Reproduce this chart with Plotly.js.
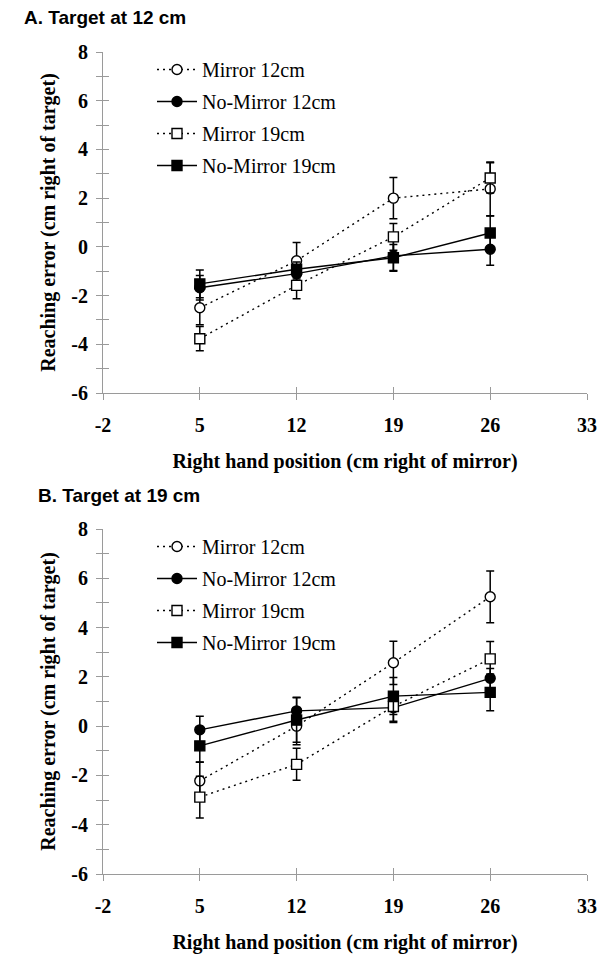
<!DOCTYPE html>
<html>
<head>
<meta charset="utf-8">
<script src="https://cdn.plot.ly/plotly-3.0.1.min.js"></script>
<style>html,body{margin:0;padding:0;background:#fff;}#chart{width:604px;height:954px;}</style>
</head>
<body>
<div id="chart"></div>
<script>
// ---- data ----
const handPos = [5, 12, 19, 26];
const seriesNames = ["Mirror 12cm", "No-Mirror 12cm", "Mirror 19cm", "No-Mirror 19cm"];
const xTickVals = [-2, 5, 12, 19, 26, 33];
const xTickText = ["-2", "5", "12", "19", "26", "33"];
const yTickVals = [-6, -5, -4, -3, -2, -1, 0, 1, 2, 3, 4, 5, 6, 7, 8];
const yTickText = ["-6", "", "-4", "", "-2", "", "0", "", "2", "", "4", "", "6", "", "8"];

// Panel A: target at 12 cm
const aMirror12 = [-2.5, -0.57, 2.0, 2.38];
const aMirror12Err = [0.7, 0.75, 0.85, 1.1];
const aNoMirror12 = [-1.68, -1.1, -0.37, -0.1];
const aNoMirror12Err = [0.5, 0.35, 0.6, 0.65];
const aMirror19 = [-3.77, -1.58, 0.41, 2.83];
const aMirror19Err = [0.5, 0.55, 0.55, 0.62];
const aNoMirror19 = [-1.52, -0.92, -0.45, 0.57];
const aNoMirror19Err = [0.57, 0.3, 0.55, 0.7];

// Panel B: target at 19 cm
const bMirror12 = [-2.22, 0.0, 2.57, 5.25];
const bMirror12Err = [0.75, 0.75, 0.88, 1.05];
const bNoMirror12 = [-0.15, 0.62, 0.75, 1.94];
const bNoMirror12Err = [0.55, 0.55, 0.6, 0.4];
const bMirror19 = [-2.88, -1.55, 0.8, 2.73];
const bMirror19Err = [0.85, 0.65, 0.6, 0.7];
const bNoMirror19 = [-0.8, 0.25, 1.22, 1.37];
const bNoMirror19Err = [0.65, 0.9, 0.75, 0.75];

// ---- styling helpers ----
const styles = [
  {dash: "2px,4px", symbol: "circle", fill: "white"},
  {dash: "solid", symbol: "circle", fill: "black"},
  {dash: "2px,4px", symbol: "square", fill: "white"},
  {dash: "solid", symbol: "square", fill: "black"}
];
function mk(vals, errs, i, xa, ya, leg) {
  const s = styles[i];
  return {
    x: handPos, y: vals, type: "scatter", mode: "lines+markers",
    name: seriesNames[i], xaxis: xa, yaxis: ya, legend: leg,
    legendgroup: leg + i,
    line: {color: "black", width: 1.4, dash: s.dash},
    marker: {symbol: s.symbol, size: 10, color: s.fill, line: {color: "black", width: 1.4}},
    error_y: {type: "data", array: errs, visible: true, color: "black", thickness: 1.5, width: 4}
  };
}
// empty helper traces so that the tick-only overlay axes get drawn
function holder(xa, ya) {
  return {x: [null], y: [null], type: "scatter", mode: "markers", xaxis: xa, yaxis: ya,
          showlegend: false, hoverinfo: "skip", marker: {opacity: 0}};
}
const data = [
  holder("x3", "y"), holder("x", "y3"), holder("x4", "y2"), holder("x2", "y4"),
  mk(aMirror12, aMirror12Err, 0, "x", "y", "legend"),
  mk(aNoMirror12, aNoMirror12Err, 1, "x", "y", "legend"),
  mk(aMirror19, aMirror19Err, 2, "x", "y", "legend"),
  mk(aNoMirror19, aNoMirror19Err, 3, "x", "y", "legend"),
  mk(bMirror12, bMirror12Err, 0, "x2", "y2", "legend2"),
  mk(bNoMirror12, bNoMirror12Err, 1, "x2", "y2", "legend2"),
  mk(bMirror19, bMirror19Err, 2, "x2", "y2", "legend2"),
  mk(bNoMirror19, bNoMirror19Err, 3, "x2", "y2", "legend2")
];

const H = 954, L = 103, R = 17, PW = 604 - L - R;
const serifBold = {family: "Liberation Serif", size: 20, weight: "bold", color: "black"};
const axisGrey = "#9a9a9a";
function xAxis(anchor) {
  return {
    anchor: anchor, domain: [0, 1], range: [-2, 33],
    tickmode: "array", tickvals: xTickVals, ticktext: xTickText,
    ticks: "outside", ticklen: 6, tickcolor: axisGrey, tickwidth: 1,
    showline: true, linecolor: axisGrey, linewidth: 1,
    showgrid: false, zeroline: false, fixedrange: true,
    tickfont: serifBold, ticklabelstandoff: 8,
    title: {text: "Right hand position (cm right of mirror)", font: serifBold, standoff: 18}
  };
}
function xAxisInner(over, anchor) {
  return {
    overlaying: over, anchor: anchor, range: [-2, 33],
    tickmode: "array", tickvals: xTickVals, ticks: "inside", ticklen: 6,
    tickcolor: axisGrey, tickwidth: 1, showticklabels: false,
    showline: false, showgrid: false, zeroline: false, fixedrange: true
  };
}
function yAxis(anchor, top, bottom) {
  return {
    anchor: anchor, domain: [1 - bottom / H, 1 - top / H], range: [-6, 8],
    tickmode: "array", tickvals: yTickVals, ticktext: yTickText,
    ticks: "outside", ticklen: 6, tickcolor: axisGrey, tickwidth: 1,
    showline: true, linecolor: axisGrey, linewidth: 1,
    showgrid: false, zeroline: false, fixedrange: true,
    tickfont: serifBold, ticklabelstandoff: 4,
    title: {text: "Reaching error (cm right of target)", font: serifBold, standoff: 10}
  };
}
function yAxisInner(over, anchor) {
  return {
    overlaying: over, anchor: anchor, range: [-6, 8],
    tickmode: "array", tickvals: yTickVals, ticks: "inside", ticklen: 6,
    tickcolor: axisGrey, tickwidth: 1, showticklabels: false,
    showline: false, showgrid: false, zeroline: false, fixedrange: true
  };
}
const legendBase = {
  font: {family: "Liberation Serif", size: 20, color: "black"},
  bgcolor: "rgba(0,0,0,0)", borderwidth: 0,
  xref: "paper", yref: "paper", xanchor: "left", yanchor: "top",
  traceorder: "grouped", tracegroupgap: 3, itemwidth: 40
};
const titleFont = {family: "Liberation Sans", size: 19, weight: "bold", color: "black"};
const layout = {
  width: 604, height: 954,
  margin: {l: L, r: R, t: 0, b: 0},
  paper_bgcolor: "white", plot_bgcolor: "white",
  showlegend: true,
  xaxis: xAxis("y"),
  yaxis: yAxis("x", 52, 393),
  xaxis2: xAxis("y2"),
  yaxis2: yAxis("x2", 529, 874),
  xaxis3: xAxisInner("x", "y"),
  yaxis3: yAxisInner("y", "x"),
  xaxis4: xAxisInner("x2", "y2"),
  yaxis4: yAxisInner("y2", "x2"),
  legend: Object.assign({}, legendBase, {x: (152 - L) / PW, y: 1 - 50 / H}),
  legend2: Object.assign({}, legendBase, {x: (152 - L) / PW, y: 1 - 527 / H}),
  annotations: [
    {text: "A. Target at 12 cm", xref: "paper", yref: "paper", x: (22 - L) / PW, y: 1 - 18 / H,
     xanchor: "left", yanchor: "middle", showarrow: false, font: titleFont},
    {text: "B. Target at 19 cm", xref: "paper", yref: "paper", x: (36 - L) / PW, y: 1 - 495 / H,
     xanchor: "left", yanchor: "middle", showarrow: false, font: titleFont}
  ]
};
Plotly.newPlot("chart", data, layout, {displayModeBar: false, staticPlot: true});
</script>
</body>
</html>
